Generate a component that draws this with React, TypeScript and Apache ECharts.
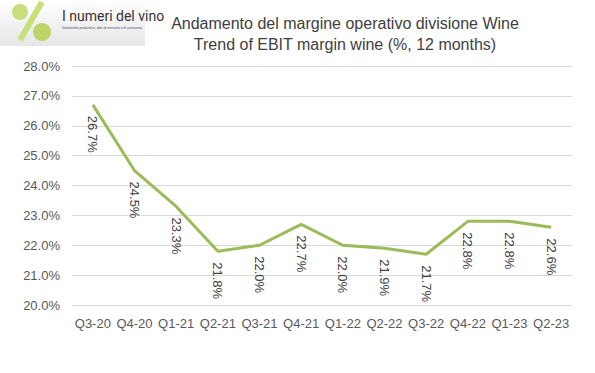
import React, { useEffect, useRef } from "react";
import * as echarts from "echarts";

const categories = ["Q3-20", "Q4-20", "Q1-21", "Q2-21", "Q3-21", "Q4-21", "Q1-22", "Q2-22", "Q3-22", "Q4-22", "Q1-23", "Q2-23"];
const margins = [26.7, 24.5, 23.3, 21.8, 22.0, 22.7, 22.0, 21.9, 21.7, 22.8, 22.8, 22.6];
const titleLines = ["Andamento del margine operativo divisione Wine", "Trend of EBIT margin wine (%, 12 months)"];

export default function App() {
  const ref = useRef<HTMLDivElement>(null);
  useEffect(() => {
    const chart = echarts.init(ref.current!, null, { renderer: "svg" });
    chart.setOption({
      animation: false,
      backgroundColor: "#ffffff",
      title: {
        text: titleLines.join("\n"),
        left: 340,
        top: 8,
        textAlign: "center",
        textStyle: { fontFamily: "Liberation Sans", fontSize: 16, fontWeight: "normal", color: "#404040", lineHeight: 21 },
      },
      graphic: [
        {
          type: "rect",
          shape: { x: 0, y: 0, width: 145, height: 46 },
          style: {
            fill: new echarts.graphic.LinearGradient(0, 0, 0, 1, [
              { offset: 0, color: "#ffffff" },
              { offset: 1, color: "#e6e6e6" },
            ]),
          },
        },
        { type: "line", shape: { x1: 42, y1: 2, x2: 20, y2: 40 }, style: { stroke: "#c8e07a", lineWidth: 6 } },
        { type: "circle", shape: { cx: 20, cy: 12, r: 8 }, style: { fill: "#c9dc7e" } },
        { type: "circle", shape: { cx: 42, cy: 32, r: 9 }, style: { fill: "#bcd468" } },
        { type: "text", x: 62, y: 9, style: { text: "I numeri del vino", fontFamily: "Roboto", fontSize: 14, fill: "#333333" } },
        { type: "text", x: 62, y: 26, style: { text: "Statistiche produttive, dati di mercato e di consumo.", fontFamily: "Roboto", fontSize: 3.5, fill: "#555555" } },
      ],
      grid: { left: 72, right: 23, top: 66, bottom: 68 },
      xAxis: {
        type: "category",
        data: categories,
        boundaryGap: true,
        axisLine: { show: false },
        axisTick: { show: false },
        axisLabel: { color: "#595959", fontSize: 13, fontFamily: "Liberation Sans", margin: 12, interval: 0 },
      },
      yAxis: {
        type: "value",
        min: 20,
        max: 28,
        interval: 1,
        axisLine: { show: false },
        axisTick: { show: false },
        splitLine: { lineStyle: { color: "#d9d9d9", width: 1 } },
        axisLabel: {
          color: "#595959",
          fontSize: 13,
          fontFamily: "Liberation Sans",
          margin: 12,
          formatter: (v: number) => v.toFixed(1) + "%",
        },
      },
      series: [
        {
          type: "line",
          data: margins,
          symbol: "circle",
          symbolSize: 0,
          showSymbol: true,
          itemStyle: { color: "#9bbb59" },
          lineStyle: { color: "#9bbb59", width: 3 },
          label: {
            show: true,
            position: "bottom",
            rotate: -90,
            align: "left",
            verticalAlign: "middle",
            distance: 11,
            color: "#404040",
            fontSize: 13,
            fontFamily: "Liberation Sans",
            formatter: (p: any) => p.value.toFixed(1) + "%",
          },
        },
      ],
    });
    return () => chart.dispose();
  }, []);
  return <div ref={ref} style={{ width: 595, height: 373, position: "absolute", left: 0, top: 0 }} />;
}
